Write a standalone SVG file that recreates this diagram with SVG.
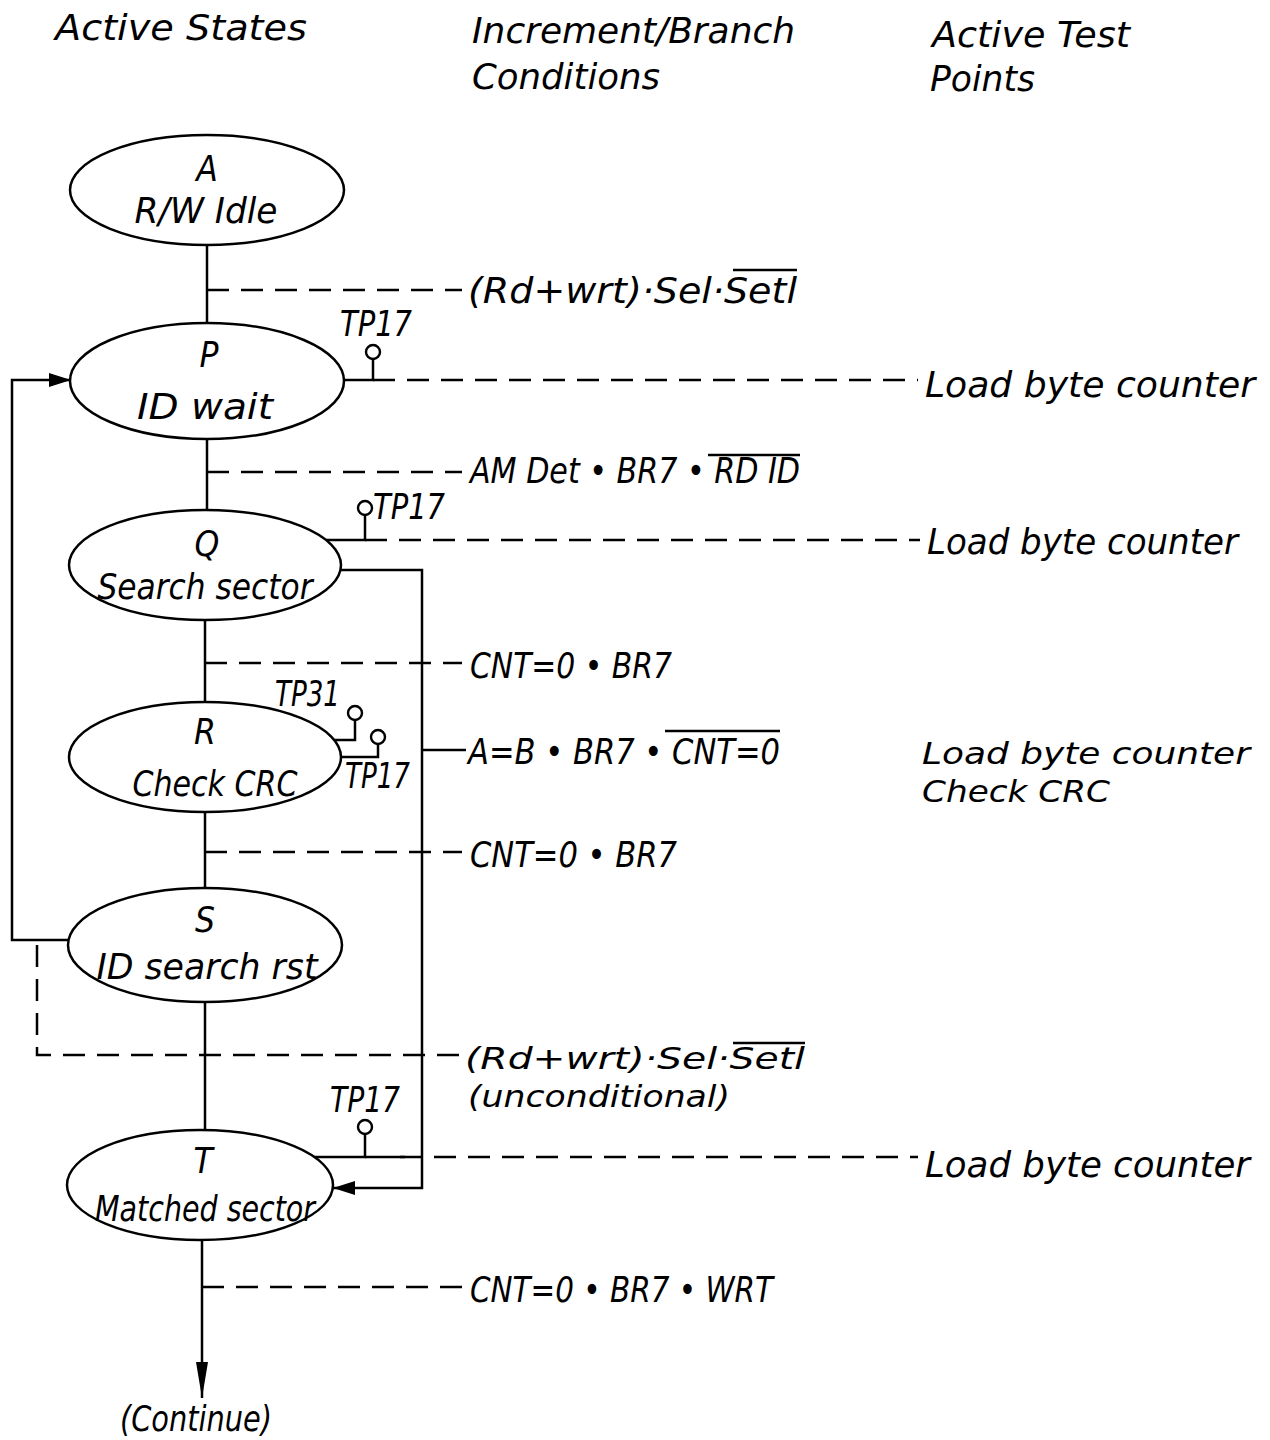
<svg xmlns="http://www.w3.org/2000/svg" width="1270" height="1440" viewBox="0 0 1270 1440">
<defs>
<style>
text{font-family:"DejaVu Sans Condensed","DejaVu Sans","Liberation Sans",sans-serif;font-stretch:condensed;font-style:italic;font-size:35px;fill:#000}
text.t{font-size:31px}
.s{fill:none;stroke:#000;stroke-width:2.5}
.d{fill:none;stroke:#000;stroke-width:2.5;stroke-dasharray:22 12}
.n{fill:#fff;stroke:#000;stroke-width:2.5}
.pin{fill:#fff;stroke:#000;stroke-width:2.4}
.ar{fill:#000;stroke:none}
</style>
<marker id="arr" viewBox="0 0 22 14" refX="22" refY="7" markerWidth="22" markerHeight="14" markerUnits="userSpaceOnUse" orient="auto">
<path d="M0,0 L22,7 L0,14 Z" class="ar"/>
</marker>
<marker id="arrl" viewBox="0 0 36 12" refX="36" refY="6" markerWidth="36" markerHeight="12" markerUnits="userSpaceOnUse" orient="auto">
<path d="M0,0 L36,6 L0,12 Z" class="ar"/>
</marker>
</defs>
<rect width="1270" height="1440" fill="#fff"/>

<g id="headers">
<text x="55" y="40" textLength="252" lengthAdjust="spacingAndGlyphs">Active States</text>
<text x="472" y="43" textLength="323" lengthAdjust="spacingAndGlyphs">Increment/Branch</text>
<text x="472" y="89" textLength="188" lengthAdjust="spacingAndGlyphs">Conditions</text>
<text x="932" y="47" textLength="198" lengthAdjust="spacingAndGlyphs">Active Test</text>
<text x="930" y="91" textLength="105" lengthAdjust="spacingAndGlyphs">Points</text>
</g>

<g id="connectors">
<line class="s" x1="207" y1="245" x2="207" y2="323"/>
<line class="s" x1="207" y1="439" x2="207" y2="511"/>
<line class="s" x1="205" y1="620" x2="205" y2="702"/>
<line class="s" x1="205" y1="812" x2="205" y2="889"/>
<line class="s" x1="205" y1="1002" x2="205" y2="1131"/>
<line class="s" x1="202" y1="1240" x2="202" y2="1398" marker-end="url(#arrl)"/>
<line class="d" x1="207" y1="290" x2="462" y2="290"/>
<line class="d" x1="207" y1="472" x2="462" y2="472"/>
<line class="d" x1="205" y1="663" x2="462" y2="663"/>
<line class="d" x1="205" y1="852" x2="462" y2="852"/>
<line class="d" x1="202" y1="1287" x2="462" y2="1287"/>
<polyline class="s" points="68,940 12,940 12,380 71,380" marker-end="url(#arr)"/>
<polyline class="d" points="37,945 37,1055 462,1055"/>
<polyline class="s" points="340,570 422,570 422,1188 333,1188" marker-end="url(#arr)"/>
<line class="s" x1="422" y1="750" x2="466" y2="750"/>
<polyline class="s" points="343,380 373,380 373,359"/>
<line class="d" x1="373" y1="380" x2="918" y2="380"/>
<polyline class="s" points="326,540 365,540 365,515"/>
<line class="d" x1="365" y1="540" x2="920" y2="540"/>
<polyline class="s" points="334,740 355,740 355,720"/>
<polyline class="s" points="341,757 378,757 378,744"/>
<polyline class="s" points="314,1157 365,1157 365,1134"/>
<line class="d" x1="400" y1="1157" x2="918" y2="1157"/>
<line class="s" x1="365" y1="1157" x2="405" y2="1157"/>
<circle class="pin" cx="373" cy="352" r="7"/>
<circle class="pin" cx="365" cy="508" r="7"/>
<circle class="pin" cx="355" cy="713" r="7"/>
<circle class="pin" cx="378" cy="737" r="7"/>
<circle class="pin" cx="365" cy="1127" r="7"/>
</g>

<g id="node-A">
<ellipse class="n" cx="207" cy="190" rx="137" ry="55"/>
<text x="207" y="181" text-anchor="middle">A</text>
<text x="206" y="223" text-anchor="middle" textLength="143" lengthAdjust="spacingAndGlyphs">R/W Idle</text>
</g>
<g id="node-P">
<ellipse class="n" cx="207" cy="381" rx="137" ry="58"/>
<text x="209" y="367" text-anchor="middle">P</text>
<text x="205" y="419" text-anchor="middle" textLength="136" lengthAdjust="spacingAndGlyphs">ID wait</text>
</g>
<g id="node-Q">
<ellipse class="n" cx="205" cy="565" rx="136" ry="55"/>
<text x="207" y="556" text-anchor="middle">Q</text>
<text x="205" y="599" text-anchor="middle" textLength="215" lengthAdjust="spacingAndGlyphs">Search sector</text>
</g>
<g id="node-R">
<ellipse class="n" cx="205" cy="757" rx="136" ry="55"/>
<text x="205" y="744" text-anchor="middle">R</text>
<text x="215" y="796" text-anchor="middle" textLength="165" lengthAdjust="spacingAndGlyphs">Check CRC</text>
</g>
<g id="node-S">
<ellipse class="n" cx="205" cy="945" rx="137" ry="57"/>
<text x="205" y="932" text-anchor="middle">S</text>
<text x="207" y="979" text-anchor="middle" textLength="221" lengthAdjust="spacingAndGlyphs">ID search rst</text>
</g>
<g id="node-T">
<ellipse class="n" cx="200" cy="1185" rx="133" ry="55"/>
<text x="203" y="1173" text-anchor="middle">T</text>
<text x="205" y="1221" text-anchor="middle" textLength="220" lengthAdjust="spacingAndGlyphs">Matched sector</text>
</g>
<g id="node-continue">
<text x="120" y="1431" textLength="152" lengthAdjust="spacingAndGlyphs">(Continue)</text>
</g>

<g id="labels">
<text x="468" y="303" textLength="329" lengthAdjust="spacingAndGlyphs">(Rd+wrt)·Sel·Setl</text>
<line class="s" x1="733" y1="270" x2="797" y2="270"/>
<text x="340" y="336" textLength="72" lengthAdjust="spacingAndGlyphs">TP17</text>
<text x="925" y="397" textLength="330" lengthAdjust="spacingAndGlyphs">Load byte counter</text>
<text x="470" y="483" textLength="330" lengthAdjust="spacingAndGlyphs">AM Det • BR7 • RD ID</text>
<line class="s" x1="708" y1="455" x2="800" y2="455"/>
<text x="373" y="519" textLength="72" lengthAdjust="spacingAndGlyphs">TP17</text>
<text x="927" y="554" textLength="311" lengthAdjust="spacingAndGlyphs">Load byte counter</text>
<text x="470" y="678" textLength="202" lengthAdjust="spacingAndGlyphs">CNT=0 • BR7</text>
<text x="275" y="706" textLength="65" lengthAdjust="spacingAndGlyphs">TP31</text>
<text x="345" y="788" textLength="65" lengthAdjust="spacingAndGlyphs">TP17</text>
<text x="468" y="764" textLength="312" lengthAdjust="spacingAndGlyphs">A=B • BR7 • CNT=0</text>
<line class="s" x1="665" y1="731" x2="780" y2="731"/>
<text class="t" x="922" y="764" textLength="328" lengthAdjust="spacingAndGlyphs">Load byte counter</text>
<text class="t" x="922" y="802" textLength="188" lengthAdjust="spacingAndGlyphs">Check CRC</text>
<text class="t" x="465" y="1069" textLength="340" lengthAdjust="spacingAndGlyphs">(Rd+wrt)·Sel·Setl</text>
<line class="s" x1="733" y1="1043" x2="805" y2="1043"/>
<text class="t" x="468" y="1107" textLength="262" lengthAdjust="spacingAndGlyphs">(unconditional)</text>
<text x="470" y="867" textLength="207" lengthAdjust="spacingAndGlyphs">CNT=0 • BR7</text>
<text x="330" y="1112" textLength="70" lengthAdjust="spacingAndGlyphs">TP17</text>
<text x="925" y="1177" textLength="325" lengthAdjust="spacingAndGlyphs">Load byte counter</text>
<text x="470" y="1302" textLength="303" lengthAdjust="spacingAndGlyphs">CNT=0 • BR7 • WRT</text>
</g>
</svg>
